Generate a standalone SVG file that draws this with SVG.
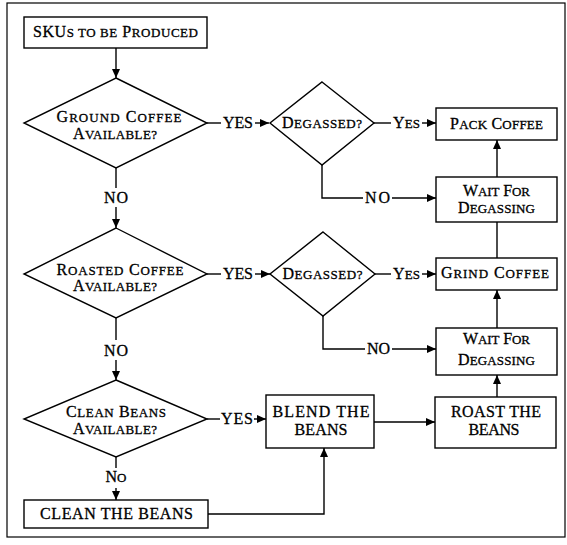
<svg xmlns="http://www.w3.org/2000/svg" width="567" height="545" viewBox="0 0 567 545">
<style>
.b{fill:#fff;stroke:#000;stroke-width:1.4}
.c{fill:none;stroke:#000;stroke-width:1.4}
.t{font-family:"Liberation Serif","Times New Roman",serif;font-size:16px;fill:#000;stroke:#000;stroke-width:0.3;text-anchor:middle}
.s{font-size:13px}
</style>
<defs>
<marker id="ah" markerUnits="userSpaceOnUse" markerWidth="10" markerHeight="8" refX="9" refY="4" orient="auto">
<path d="M0,0 L9,4 L0,8 Z" fill="#000"/>
</marker>
</defs>
<rect x="7" y="3" width="558" height="534" fill="#fff" stroke="#000" stroke-width="1.2"/>
<g id="connectors">
<path class="c" d="M116,48 V78" marker-end="url(#ah)"/>
<path class="c" d="M207,123 H221"/>
<path class="c" d="M255,123 H269" marker-end="url(#ah)"/>
<path class="c" d="M374,123 H391"/>
<path class="c" d="M422,123 H436" marker-end="url(#ah)"/>
<path class="c" d="M322,165 V198 H363"/>
<path class="c" d="M392,198 H436" marker-end="url(#ah)"/>
<path class="c" d="M497,177 V140" marker-end="url(#ah)"/>
<path class="c" d="M497,222 V258"/>
<path class="c" d="M116,168 V188"/>
<path class="c" d="M116,207 V228" marker-end="url(#ah)"/>
<path class="c" d="M207,274 H221"/>
<path class="c" d="M255,274 H270" marker-end="url(#ah)"/>
<path class="c" d="M375,274 H391"/>
<path class="c" d="M422,274 H436" marker-end="url(#ah)"/>
<path class="c" d="M323,316 V349 H365"/>
<path class="c" d="M392,349 H436" marker-end="url(#ah)"/>
<path class="c" d="M497,328 V290" marker-end="url(#ah)"/>
<path class="c" d="M497,397 V375" marker-end="url(#ah)"/>
<path class="c" d="M116,318 V340"/>
<path class="c" d="M116,360 V380" marker-end="url(#ah)"/>
<path class="c" d="M207,419 H220"/>
<path class="c" d="M254,419 H266" marker-end="url(#ah)"/>
<path class="c" d="M374,422 H435" marker-end="url(#ah)"/>
<path class="c" d="M116,457 V468"/>
<path class="c" d="M116,488 V500" marker-end="url(#ah)"/>
<path class="c" d="M208,514 H324 V448" marker-end="url(#ah)"/>
<text class="t" x="238" y="128" textLength="30">YES</text>
<text class="t" x="406.5" y="128" textLength="27">Y<tspan class="s">ES</tspan></text>
<text class="t" x="377.5" y="203" textLength="25">NO</text>
<text class="t" x="116" y="203" textLength="24">NO</text>
<text class="t" x="238" y="279" textLength="30">YES</text>
<text class="t" x="406.5" y="279" textLength="27">Y<tspan class="s">ES</tspan></text>
<text class="t" x="378.5" y="354" textLength="23">NO</text>
<text class="t" x="116" y="356" textLength="24">NO</text>
<text class="t" x="237" y="424" textLength="32">YES</text>
<text class="t" x="116" y="482" textLength="21">N<tspan class="s">O</tspan></text>
</g>
<g id="skus">
<rect class="b" x="24" y="17" width="183" height="31"/>
<text class="t" x="115.5" y="37" textLength="165">SKU<tspan class="s">S TO BE</tspan> P<tspan class="s">RODUCED</tspan></text>
</g>
<g id="ground">
<polygon class="b" points="116,78 207,123 116,168 24,123"/>
<text class="t" x="119" y="122" textLength="125">G<tspan class="s">ROUND</tspan> C<tspan class="s">OFFEE</tspan></text>
<text class="t" x="115" y="139" textLength="84">A<tspan class="s">VAILABLE?</tspan></text>
</g>
<g id="degassed1">
<polygon class="b" points="322,82 374,123 322,165 270,123"/>
<text class="t" x="322" y="128" textLength="80">D<tspan class="s">EGASSED?</tspan></text>
</g>
<g id="pack">
<rect class="b" x="436" y="108" width="121" height="32"/>
<text class="t" x="496.5" y="129" textLength="93">P<tspan class="s">ACK</tspan> C<tspan class="s">OFFEE</tspan></text>
</g>
<g id="wait1">
<rect class="b" x="436" y="177" width="121" height="45"/>
<text class="t" x="496.5" y="196" textLength="67">W<tspan class="s">AIT</tspan> F<tspan class="s">OR</tspan></text>
<text class="t" x="496.5" y="213" textLength="77">D<tspan class="s">EGASSING</tspan></text>
</g>
<g id="roasted">
<polygon class="b" points="116,228 207,274 116,318 24,274"/>
<text class="t" x="120" y="275" textLength="127">R<tspan class="s">OASTED</tspan> C<tspan class="s">OFFEE</tspan></text>
<text class="t" x="115" y="291" textLength="84">A<tspan class="s">VAILABLE?</tspan></text>
</g>
<g id="degassed2">
<polygon class="b" points="323,232 375,274 323,316 270,274"/>
<text class="t" x="322.5" y="279" textLength="80">D<tspan class="s">EGASSED?</tspan></text>
</g>
<g id="grind">
<rect class="b" x="436" y="258" width="121" height="32"/>
<text class="t" x="495" y="278" textLength="108">G<tspan class="s">RIND</tspan> C<tspan class="s">OFFEE</tspan></text>
</g>
<g id="wait2">
<rect class="b" x="436" y="328" width="121" height="47"/>
<text class="t" x="496.5" y="344" textLength="67">W<tspan class="s">AIT</tspan> F<tspan class="s">OR</tspan></text>
<text class="t" x="496.5" y="365" textLength="77">D<tspan class="s">EGASSING</tspan></text>
</g>
<g id="clean">
<polygon class="b" points="116,380 207,419 116,457 24,419"/>
<text class="t" x="116" y="417" textLength="100">C<tspan class="s">LEAN</tspan> B<tspan class="s">EANS</tspan></text>
<text class="t" x="115" y="434" textLength="84">A<tspan class="s">VAILABLE?</tspan></text>
</g>
<g id="blend">
<rect class="b" x="266" y="395" width="108" height="53"/>
<text class="t" x="321" y="417" textLength="97">BLEND THE</text>
<text class="t" x="321" y="435" textLength="53">BEANS</text>
</g>
<g id="roast">
<rect class="b" x="435" y="397" width="121" height="51"/>
<text class="t" x="496" y="417" textLength="90">ROAST THE</text>
<text class="t" x="494" y="435" textLength="51">BEANS</text>
</g>
<g id="cleanbox">
<rect class="b" x="24" y="500" width="184" height="28"/>
<text class="t" x="116.5" y="519" textLength="153">CLEAN THE BEANS</text>
</g>
</svg>
